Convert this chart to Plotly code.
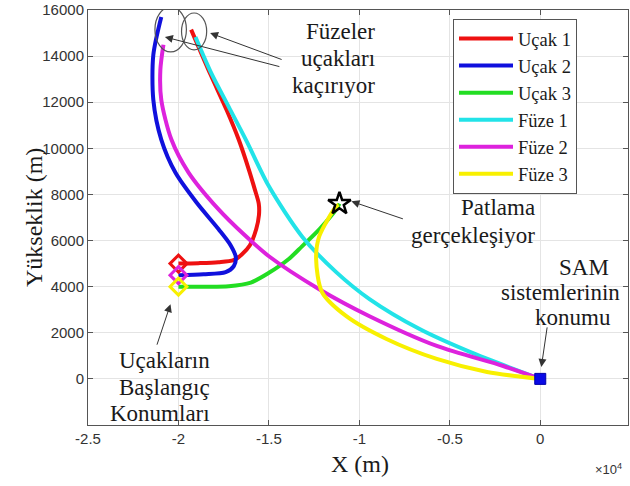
import plotly.graph_objects as go

# ---------------- data ----------------
ucak1_x = [-20000, -18900, -17800, -16950, -16500, -16050, -15700, -15550, -15560, -15780, -16110, -16670, -17330, -18220, -19300]
ucak1_y = [5000, 5020, 5060, 5150, 5400, 5800, 6500, 7100, 7600, 8220, 9080, 10380, 11650, 13190, 15150]

ucak2_x = [-20000, -18610, -17390, -16940, -16830, -17110, -17780, -19000, -20170, -20950, -21390, -21390, -20950]
ucak2_y = [4500, 4540, 4630, 4890, 5280, 5790, 6490, 7650, 8950, 10380, 12110, 14050, 15700]

ucak3_x = [-20000, -18500, -17220, -16000, -15000, -13900, -13170, -12200, -11280, -11100]
ucak3_y = [4000, 4000, 4020, 4180, 4600, 5200, 5750, 6500, 7350, 7600]

fuze1_x = [0, -3890, -6670, -9440, -11280, -13170, -15000, -16220, -17220, -18220, -19060]
fuze1_y = [0, 1170, 2160, 3460, 4630, 6180, 8350, 10290, 11800, 13320, 14830]

fuze2_x = [0, -2050, -5720, -9440, -12220, -15000, -16390, -17780, -19440, -20390, -20950, -21000, -20830]
fuze2_y = [0, 560, 1430, 2720, 3890, 5320, 6270, 7350, 8950, 10380, 12110, 13400, 14490]

fuze3_x = [0, -2940, -5720, -8500, -10720, -12060, -12390, -12220, -11280, -11150]
fuze3_y = [0, 300, 865, 1730, 2720, 3760, 5190, 6180, 7480, 7550]

series_names = ["Uçak 1", "Uçak 2", "Uçak 3", "Füze 1", "Füze 2", "Füze 3"]
series_colors = ["#ee1111", "#1010dd", "#22dd22", "#22e3e8", "#dd22dd", "#f8f000"]

start_x = [-20000, -20000, -20000]
start_y = [5000, 4500, 4000]
start_colors = ["#ee1111", "#dd22dd", "#f8f000"]

blast_x = [-11100]
blast_y = [7600]

sam_x = [0]
sam_y = [0]

x_tickvals = [-25000, -20000, -15000, -10000, -5000, 0]
x_ticktext = ["-2.5", "-2", "-1.5", "-1", "-0.5", "0"]
y_tickvals = [0, 2000, 4000, 6000, 8000, 10000, 12000, 14000, 16000]
y_ticktext = ["0", "2000", "4000", "6000", "8000", "10000", "12000", "14000", "16000"]

# ellipses (x0, x1, y0, y1)
ellipse1 = [-21300, -19560, 14180, 16130]
ellipse2 = [-19830, -18440, 14270, 15870]

# annotation text lines
note_escape = ["Füzeler", "uçakları", "kaçırıyor"]
note_blast = ["Patlama", "gerçekleşiyor"]
note_sam = ["SAM", "sistemlerinin", "konumu"]
note_start = ["Uçakların", "Başlangıç", "Konumları"]

# ---------------- figure ----------------
fig = go.Figure()
xs = [ucak1_x, ucak2_x, ucak3_x, fuze1_x, fuze2_x, fuze3_x]
ys = [ucak1_y, ucak2_y, ucak3_y, fuze1_y, fuze2_y, fuze3_y]
for name, col, x, y in zip(series_names, series_colors, xs, ys):
    fig.add_trace(go.Scatter(x=x, y=y, mode="lines", name=name,
                             line=dict(color=col, width=4, shape="spline", smoothing=0.8)))

for sx, sy, c in zip(start_x, start_y, start_colors):
    fig.add_trace(go.Scatter(x=[sx], y=[sy], mode="markers", showlegend=False,
                             marker=dict(symbol="diamond-open", size=13, color=c, line=dict(width=3, color=c))))

fig.add_trace(go.Scatter(x=blast_x, y=blast_y, mode="markers", showlegend=False,
                         marker=dict(symbol="star-open", size=17, color="black", line=dict(width=2.5, color="black"))))
fig.add_trace(go.Scatter(x=sam_x, y=sam_y, mode="markers", showlegend=False,
                         marker=dict(symbol="square", size=11, color="#0a0ae6", line=dict(width=1, color="#0000aa"))))

for e in (ellipse1, ellipse2):
    fig.add_shape(type="circle", xref="x", yref="y", x0=e[0], x1=e[1], y0=e[2], y1=e[3],
                  line=dict(color="#555555", width=1.2))

serif = "Times New Roman, Liberation Serif, serif"
sans = "Arial, Liberation Sans, sans-serif"
ann_font = dict(family=serif, size=23, color="#1a1a1a")

# plot area in page pixels: x 88..628, y 10..425
PL, PW, PB, PH = 88, 540, 425, 415


def px_note(text, px, py, anchor):
    fig.add_annotation(xref="paper", yref="paper", x=(px - PL) / PW, y=(PB - py) / PH,
                       text=text, showarrow=False, xanchor=anchor, yanchor="middle",
                       font=ann_font)


for t, py in zip(note_escape, [32, 59, 85]):
    px_note(t, 377, py, "right")
for t, py in zip(note_blast, [208, 235]):
    px_note(t, 537, py, "right")
for t, px, py in zip(note_sam, [584, 560, 573], [267, 292, 317]):
    px_note(t, px, py, "center")
for t, py in zip(note_start, [360, 387, 413]):
    px_note(t, 212, py, "right")

# arrows (head at data point, tail offset in px)
arrows = [
    (-18250, 15000, 73, 27),
    (-20750, 14830, 116, 30),
    (-10440, 7700, 53, 18),
    (60, 520, 6, -41),
    (-20440, 3240, -14, 42),
]
for hx, hy, axp, ayp in arrows:
    fig.add_annotation(x=hx, y=hy, xref="x", yref="y", ax=axp, ay=ayp, text="",
                       showarrow=True, arrowhead=2, arrowsize=1.6, arrowwidth=1, arrowcolor="#333333")

# axis titles and exponent
fig.add_annotation(xref="paper", yref="paper", x=(34 - PL) / PW, y=(PB - 218) / PH, text="Yükseklik (m)",
                   textangle=-90, showarrow=False, xanchor="center", yanchor="middle",
                   font=dict(family=serif, size=24, color="#1a1a1a"))
fig.add_annotation(xref="paper", yref="paper", x=(360 - PL) / PW, y=(PB - 464) / PH, text="X (m)",
                   showarrow=False, xanchor="center", yanchor="middle",
                   font=dict(family=serif, size=24, color="#1a1a1a"))
fig.add_annotation(xref="paper", yref="paper", x=(608 - PL) / PW, y=(PB - 469) / PH,
                   xanchor="center", yanchor="middle",
                   text="×10<sup>4</sup>", showarrow=False, font=dict(family=sans, size=13, color="#333333"))

axis_common = dict(showline=True, linecolor="#555555", linewidth=1, mirror="ticks",
                   ticks="inside", ticklen=5, tickcolor="#555555", showgrid=True,
                   gridcolor="#e4e4e4", gridwidth=1, zeroline=False, automargin=False,
                   ticklabeloverflow="allow",
                   tickfont=dict(family=sans, size=15, color="#333333"))
fig.update_xaxes(range=[-25000, 4850], tickvals=x_tickvals, ticktext=x_ticktext, **axis_common)
fig.update_yaxes(range=[-2000, 16000], tickvals=y_tickvals, ticktext=y_ticktext, **axis_common)

fig.update_layout(
    width=630, height=486,
    margin=dict(l=88, r=2, t=10, b=61, autoexpand=False),
    paper_bgcolor="white", plot_bgcolor="white",
    showlegend=True,
    legend=dict(x=(453 - PL) / PW, y=(PB - 19) / PH, xanchor="left", yanchor="top",
                bgcolor="white", bordercolor="#555555", borderwidth=1,
                font=dict(family=serif, size=18.5, color="#1a1a1a"),
                itemwidth=54, tracegroupgap=0),
)

# remove the default 8px page margin so the figure fills the window exactly
fig.write_html("out.html", config={"displayModeBar": False},
               post_script="document.body.style.margin='0';document.body.style.overflow='hidden';")
